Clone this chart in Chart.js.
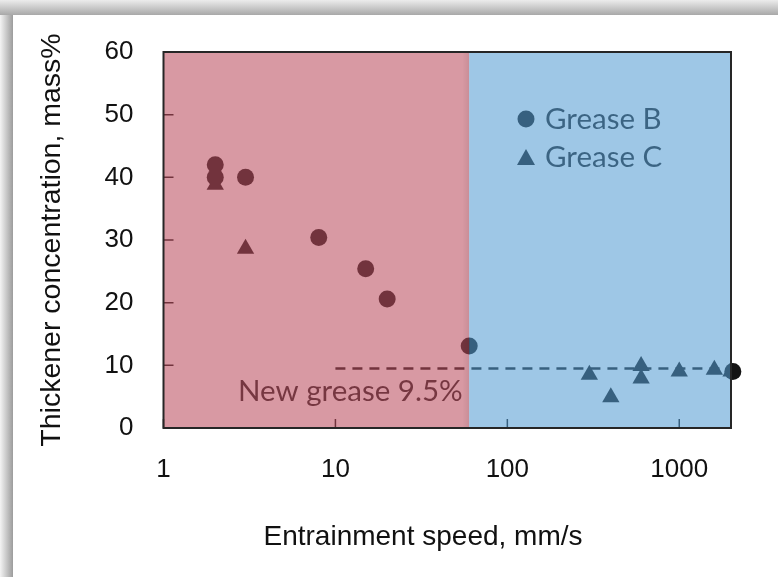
<!DOCTYPE html>
<html>
<head>
<meta charset="utf-8">
<script src="https://cdn.jsdelivr.net/npm/chart.js@4.4.0/dist/chart.umd.min.js"></script>
<style>
  html, body { margin: 0; padding: 0; background: #fff; }
</style>
</head>
<body>
<canvas id="greaseChart" width="778" height="577"></canvas>
<script>
// Grease B (cirkels) en Grease C (driehoeken)
const greaseBSpeed = [2, 2, 3, 8, 15, 20, 60, 2050];
const greaseBConc = [42, 40, 40, 30.4, 25.4, 20.6, 13.1, 9];
const greaseCSpeed = [2, 3, 300, 400, 600, 600, 1000, 1600, 2000];
const greaseCConc = [38.8, 28.6, 8.5, 4.9, 9.9, 7.9, 9.0, 9.3, 9.0];
const newGreaseSpeed = [10, 2000];
const newGreaseConc = [9.5, 9.5];
const regionBounds = [1, 60, 2000];
const xTickValues = [1, 10, 100, 1000];
const yTickValues = [0, 10, 20, 30, 40, 50, 60];
const seriesLabels = ['Grease B', 'Grease C'];
const noteText = 'New grease 9.5%';
const xTitle = 'Entrainment speed, mm/s';

const toPoints = (xs, ys) => xs.map((v, i) => ({x: v, y: ys[i]}));
const markColor = '#141414';

const overlayPlugin = {
    id: 'overlay',
    beforeDraw(chart) {
        const c = chart.ctx;
        c.save();
        c.fillStyle = '#fff';
        c.fillRect(0, 0, chart.width, chart.height);
        let g = c.createLinearGradient(0, 0, 0, 15);
        g.addColorStop(0, '#ececec');
        g.addColorStop(1, '#a8a8a8');
        c.fillStyle = g;
        c.fillRect(0, 0, chart.width, 15);
        g = c.createLinearGradient(0, 0, 13, 0);
        g.addColorStop(0, '#f4f4f4');
        g.addColorStop(1, '#9c9c9c');
        c.fillStyle = g;
        c.fillRect(0, 15, 13, chart.height - 15);
        c.restore();
    },
    afterDatasetsDraw(chart) {
        const c = chart.ctx, a = chart.chartArea;
        const xs = chart.scales.x, ys = chart.scales.y;
        c.save();

        // tick marks naar binnen
        c.strokeStyle = markColor;
        c.lineWidth = 1.5;
        c.beginPath();
        yTickValues.forEach(v => {
            const py = ys.getPixelForValue(v);
            c.moveTo(a.left, py); c.lineTo(a.left + 10, py);
        });
        xTickValues.forEach(v => {
            const px = xs.getPixelForValue(v);
            c.moveTo(px, a.bottom); c.lineTo(px, a.bottom - 9);
        });
        c.stroke();

        // legenda
        c.fillStyle = markColor;
        c.beginPath();
        c.arc(526, 119, 8.5, 0, Math.PI * 2);
        c.fill();
        c.beginPath();
        c.moveTo(526, 149); c.lineTo(535, 165); c.lineTo(517, 165);
        c.closePath();
        c.fill();
        c.fillStyle = '#1c1c1c';
        c.font = '29.5px Lato';
        c.textBaseline = 'middle';
        c.textAlign = 'left';
        c.fillText(seriesLabels[0], 545, 119);
        c.fillText(seriesLabels[1], 545, 157);

        // tekst bij stippellijn
        c.fillText(noteText, 238, 391);

        // gekleurde gebieden
        const xMid = xs.getPixelForValue(regionBounds[1]);
        c.fillStyle = 'rgba(186,75,94,0.57)';
        c.fillRect(a.left, a.top, xMid - a.left, a.bottom - a.top);
        const sh = c.createLinearGradient(xMid - 7, 0, xMid, 0);
        sh.addColorStop(0, 'rgba(0,0,0,0)');
        sh.addColorStop(1, 'rgba(0,0,0,0.07)');
        c.fillStyle = sh;
        c.fillRect(xMid - 7, a.top, 7, a.bottom - a.top);
        c.fillStyle = 'rgba(83,156,211,0.565)';
        c.fillRect(xMid, a.top, a.right - xMid, a.bottom - a.top);

        c.strokeStyle = '#262626';
        c.lineWidth = 2;
        c.strokeRect(a.left, a.top, a.right - a.left, a.bottom - a.top);
        c.restore();
    },
    afterDraw(chart) {
        // x-as titel, gecentreerd zoals in het origineel
        const c = chart.ctx;
        c.save();
        c.fillStyle = '#111';
        c.font = '28px "Liberation Sans"';
        c.textAlign = 'center';
        c.textBaseline = 'middle';
        c.fillText(xTitle, 423, 537);
        c.restore();
    }
};

const ctx = document.getElementById('greaseChart').getContext('2d');
const greaseChart = new Chart(ctx, {
    type: 'scatter',
    data: {
        datasets: [{
            label: seriesLabels[0],
            data: toPoints(greaseBSpeed, greaseBConc),
            pointStyle: 'circle',
            pointRadius: 8.5,
            backgroundColor: markColor,
            borderWidth: 0,
            clip: false
        }, {
            label: seriesLabels[1],
            data: toPoints(greaseCSpeed, greaseCConc),
            pointStyle: 'triangle',
            pointRadius: 10,
            backgroundColor: markColor,
            borderWidth: 0,
            clip: false
        }, {
            label: noteText,
            data: toPoints(newGreaseSpeed, newGreaseConc),
            showLine: true,
            borderColor: markColor,
            borderWidth: 2.5,
            borderDash: [10, 7],
            pointRadius: 0
        }]
    },
    options: {
        responsive: false,
        animation: false,
        layout: { padding: { top: 52, right: 47, left: 0, bottom: 0 } },
        plugins: {
            legend: { display: false },
            tooltip: { enabled: false }
        },
        scales: {
            x: {
                type: 'logarithmic',
                min: regionBounds[0],
                max: regionBounds[2],
                grid: { display: false, drawTicks: false },
                border: { display: false },
                afterBuildTicks: scale => { scale.ticks = xTickValues.map(v => ({value: v})); },
                afterFit: scale => { scale.height = 149; },
                ticks: {
                    padding: 26,
                    color: '#111',
                    font: { family: 'Liberation Sans', size: 26 },
                    callback: value => String(value)
                },
                title: { display: false }
            },
            y: {
                min: 0,
                max: 60,
                grid: { display: false, drawTicks: false },
                border: { display: false },
                afterBuildTicks: scale => { scale.ticks = yTickValues.map(v => ({value: v})); },
                afterFit: scale => { scale.width = 163.5; },
                ticks: {
                    padding: 30,
                    color: '#111',
                    font: { family: 'Liberation Sans', size: 26 }
                },
                title: {
                    display: true,
                    text: 'Thickener concentration, mass%',
                    color: '#111',
                    font: { family: 'Liberation Sans', size: 28.5 },
                    padding: { top: 35, bottom: 0 }
                }
            }
        }
    },
    plugins: [overlayPlugin]
});
</script>
</body>
</html>
